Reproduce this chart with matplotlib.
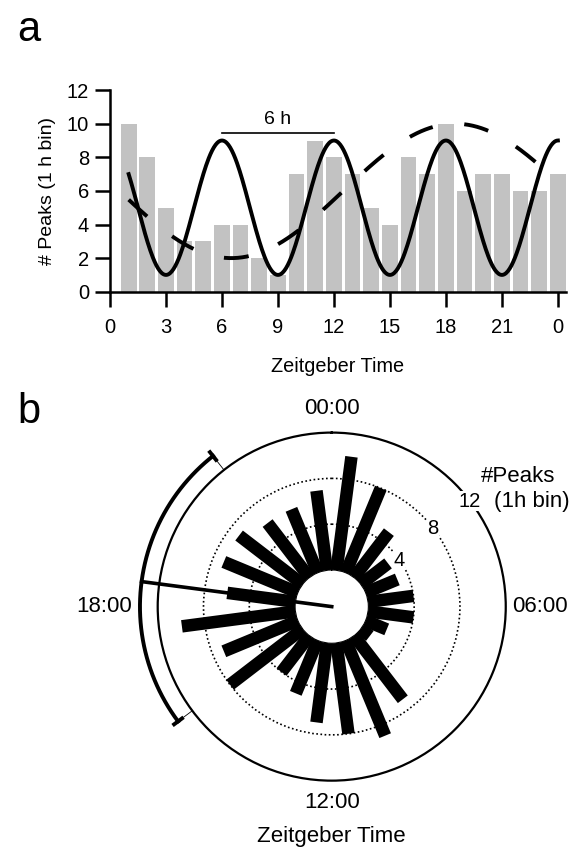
import numpy as np
import matplotlib.pyplot as plt

plt.rcParams['font.family'] = ['Liberation Sans', 'DejaVu Sans']

# peaks per 1 h bin, bins ending at ZT 1..24
hours = np.arange(1, 25)
peaks = [10, 8, 5, 3, 3, 4, 4, 2, 1, 7, 9, 8, 7, 5, 4, 8, 7, 10, 6, 7, 7, 6, 6, 7]
xticks = [0, 3, 6, 9, 12, 15, 18, 21, 24]
xticklabels = ['0', '3', '6', '9', '12', '15', '18', '21', '0']
yticks = [0, 2, 4, 6, 8, 10, 12]

# cosine fits: mean, amplitude, period (h), peak time (h)
fit_6h = (5, 4, 6, 0)
fit_24h = (6, 4, 24, 18.5)

# circular mean phase and spread (h)
mean_phase = 18.5
phase_sd = 2.95
vector_len = 13.55

clock_labels = ['00:00', '06:00', '12:00', '18:00']
rgrid_vals = [4, 8]


def cosfit(t, p):
    m, a, per, ph = p
    return m + a * np.cos(2 * np.pi * (t - ph) / per)


fig = plt.figure(figsize=(5.83, 8.47), dpi=100)

# ---- panel a
ax = fig.add_axes([0.1887, 0.6556, 0.782, 0.238])
ax.bar(hours, peaks, width=0.84, color='#c2c2c2', zorder=1)
t = np.linspace(1, 24, 500)
ax.plot(t, cosfit(t, fit_6h), color='k', lw=2.8, zorder=3)
ax.plot(t, cosfit(t, fit_24h), color='k', lw=2.8, dashes=(6.4, 8.2),
        dash_capstyle='butt', zorder=3)

ax.plot([6, 12], [9.46, 9.46], color='k', lw=1.2)
ax.text(9, 9.75, '6 h', ha='center', va='bottom', fontsize=14)

ax.set_xlim(0, 24.43)
ax.set_ylim(0, 12)
ax.set_xticks(xticks, xticklabels)
ax.set_yticks(yticks)
for s in ['top', 'right']:
    ax.spines[s].set_visible(False)
for s in ['left', 'bottom']:
    ax.spines[s].set_linewidth(1.8)
ax.tick_params(axis='both', direction='out', length=11, width=1.8, labelsize=14.5, pad=4)
ax.tick_params(axis='x', pad=8)
ax.set_xlabel('Zeitgeber Time', fontsize=14.3, labelpad=14)
ax.set_ylabel('# Peaks (1 h bin)', fontsize=14, labelpad=8)
fig.text(0.03, 0.965, 'a', fontsize=30, va='center')

# ---- panel b
axp = fig.add_axes([0.2705, 0.0783, 0.597, 0.411], projection='polar')
axp.set_theta_zero_location('N')
axp.set_theta_direction(-1)
theta = (hours - 0.5) / 24 * 2 * np.pi
axp.vlines(theta, 0, peaks, colors='k', lw=9, capstyle='butt', zorder=2)

th_m = mean_phase / 24 * 2 * np.pi
axp.plot([th_m, th_m], [-3.2, vector_len], color='k', lw=2.6, clip_on=False, zorder=4)
th1 = (mean_phase - phase_sd) / 24 * 2 * np.pi
th2 = (mean_phase + phase_sd) / 24 * 2 * np.pi
arc = np.linspace(th1, th2, 200)
axp.plot(arc, np.full_like(arc, vector_len), color='k', lw=2.8, clip_on=False)
for th in [th1, th2]:
    axp.plot([th, th], [vector_len - 0.6, vector_len + 0.6], color='k', lw=2.8,
             clip_on=False, solid_capstyle='butt')
    axp.plot([th, th], [12, vector_len - 0.6], color='k', lw=0.6, clip_on=False)

axp.set_ylim(0, 12)
axp.set_rorigin(-3.2)
axp.set_yticks(rgrid_vals)
axp.set_yticklabels([])
axp.yaxis.grid(True, color='k', lw=1.2, linestyle=(0, (1, 1.5)))
axp.set_xticks(np.deg2rad([0, 90, 180, 270]))
axp.set_xticklabels([])
axp.xaxis.grid(False)
axp.tick_params(axis='x', direction='inout', length=10, width=1.4)
axp.set_axisbelow(True)
axp.spines['polar'].set_linewidth(1.6)
axp.spines['inner'].set_visible(False)

for lab, th, r, ha in zip(clock_labels, [0, 90, 180, 270], [14.1, 12.55, 13.9, 14.25],
                          ['center', 'left', 'center', 'right']):
    axp.text(np.deg2rad(th), r, lab, ha=ha, va='center', fontsize=16)
axp.text(np.pi, 16.9, 'Zeitgeber Time', ha='center', va='center', fontsize=16)

for v, th in zip([4, 8, 12], [3.7, 3.5, 3.5]):
    axp.text(th / 24 * 2 * np.pi, v - 0.05, str(v), ha='center', va='center', fontsize=14.5,
             zorder=5, bbox=dict(facecolor='white', edgecolor='none', pad=0.5))
fig.text(0.888, 0.437, '#Peaks', ha='center', va='center', fontsize=16)
fig.text(0.912, 0.408, '(1h bin)', ha='center', va='center', fontsize=16)
fig.text(0.03, 0.513, 'b', fontsize=30, va='center')

fig.savefig('out.png', dpi=100)
